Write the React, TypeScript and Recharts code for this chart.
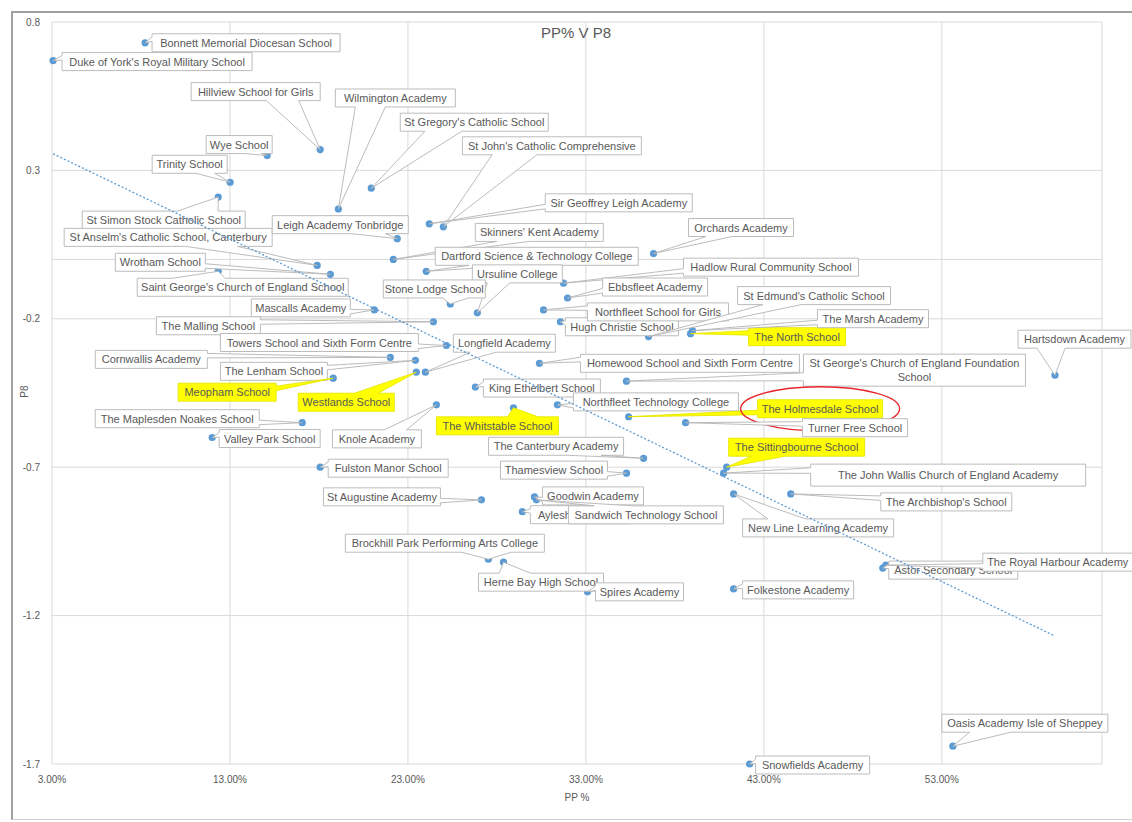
import { CartesianGrid, ReferenceLine, Scatter, ScatterChart, XAxis, YAxis } from "recharts";

const FONT = "'Liberation Sans', Arial, sans-serif";

const schools = [
  "Bonnett Memorial Diocesan School",
  "Duke of York's Royal Military School",
  "Hillview School for Girls",
  "Wilmington Academy",
  "St Gregory's Catholic School",
  "Wye School",
  "Trinity School",
  "St Simon Stock Catholic School",
  "St Anselm's Catholic School, Canterbury",
  "Wrotham School",
  "Saint George's Church of England School",
  "Leigh Academy Tonbridge",
  "St John's Catholic Comprehensive",
  "Sir Geoffrey Leigh Academy",
  "Skinners' Kent Academy",
  "Dartford Science & Technology College",
  "Orchards Academy",
  "Hadlow Rural Community School",
  "Ebbsfleet Academy",
  "Ursuline College",
  "Stone Lodge School",
  "Mascalls Academy",
  "The Malling School",
  "Towers School and Sixth Form Centre",
  "Longfield Academy",
  "Cornwallis Academy",
  "The Lenham School",
  "Meopham School",
  "Westlands School",
  "The Maplesden Noakes School",
  "Valley Park School",
  "Knole Academy",
  "King Ethelbert School",
  "The Whitstable School",
  "Northfleet Technology College",
  "Homewood School and Sixth Form Centre",
  "Hugh Christie School",
  "Northfleet School for Girls",
  "St Edmund's Catholic School",
  "The North School",
  "The Marsh Academy",
  "St George's Church of England Foundation School",
  "The Holmesdale School",
  "Turner Free School",
  "The Sittingbourne School",
  "The John Wallis Church of England Academy",
  "The Canterbury Academy",
  "Thamesview School",
  "The Archbishop's School",
  "New Line Learning Academy",
  "Goodwin Academy",
  "Aylesham School",
  "Sandwich Technology School",
  "Fulston Manor School",
  "St Augustine Academy",
  "Brockhill Park Performing Arts College",
  "Herne Bay High School",
  "Spires Academy",
  "Folkestone Academy",
  "Astor Secondary School",
  "The Royal Harbour Academy",
  "Hartsdown Academy",
  "Oasis Academy Isle of Sheppey",
  "Snowfields Academy",
];

// PP % (percentage of pupil premium pupils)
const ppPercent = [
  8.23, 3.06, 18.07, 19.09, 20.94, 15.09, 13.01, 12.34, 17.9, 18.64,
  12.34, 22.4, 24.99, 24.2, 22.18, 24.03, 36.8, 31.74, 31.97, 26.9,
  25.38, 21.11, 24.43, 25.16, 23.98, 22.01, 23.42, 18.8, 23.47, 17.06,
  12.0, 24.6, 26.79, 28.93, 31.4, 30.39, 31.57, 30.62, 36.52, 38.88,
  38.99, 35.28, 35.4, 38.6, 40.91, 40.74, 36.24, 35.28, 44.51, 41.3,
  30.11, 29.43, 30.22, 18.07, 27.13, 27.52, 28.37, 33.09, 41.3, 49.68,
  49.85, 59.36, 53.62, 42.2,
];

// Progress 8 score
const p8 = [
  0.73, 0.67, 0.37, 0.17, 0.24, 0.35, 0.26, 0.21, -0.02, -0.05,
  -0.04, 0.07, 0.11, 0.12, 0.0, -0.04, 0.02, -0.08, -0.13, -0.18,
  -0.15, -0.17, -0.21, -0.29, -0.38, -0.33, -0.34, -0.4, -0.38, -0.55,
  -0.6, -0.49, -0.43, -0.5, -0.49, -0.35, -0.21, -0.17, -0.26, -0.25,
  -0.24, -0.41, -0.53, -0.55, -0.7, -0.72, -0.67, -0.72, -0.79, -0.79,
  -0.8, -0.85, -0.81, -0.7, -0.81, -1.01, -1.02, -1.12, -1.11, -1.04,
  -1.03, -0.39, -1.64, -1.7,
];

const highlighted = [
  "Meopham School",
  "Westlands School",
  "The Whitstable School",
  "The North School",
  "The Holmesdale School",
  "The Sittingbourne School",
];
const circled = "The Holmesdale School";

const xTicks = [3, 13, 23, 33, 43, 53];
const yTicks = [0.8, 0.3, -0.2, -0.7, -1.2, -1.7];

// callout box placement relative to its point: [dx, dy, width, height]
const calloutLayout: Record<string, number[]> = {
  "Bonnett Memorial Diocesan School": [7, -9, 188],
  "Duke of York's Royal Military School": [9, -8, 190],
  "Hillview School for Girls": [-129, -67, 129],
  "Wilmington Academy": [-3, -120, 120],
  "St Gregory's Catholic School": [29, -75, 148],
  "Wye School": [-61, -20, 66],
  "Trinity School": [-78, -27, 75],
  "St Simon Stock Catholic School": [-136, 14, 163],
  "St Anselm's Catholic School, Canterbury": [-253, -37, 208],
  "Wrotham School": [-215, -21, 90],
  "Saint George's Church of England School": [-81, 7, 211],
  "Leigh Academy Tonbridge": [-125, -23, 136],
  "St John's Catholic Comprehensive": [19, -90, 179],
  "Sir Geoffrey Leigh Academy": [116, -30, 147],
  "Skinners' Kent Academy": [82, -36, 128],
  "Dartford Science & Technology College": [9, -24, 203],
  "Orchards Academy": [35, -35, 105],
  "Hadlow Rural Community School": [120, -25, 175],
  "Ebbsfleet Academy": [35, -20, 105],
  "Ursuline College": [-5, -48, 90],
  "Stone Lodge School": [-67, -24, 102],
  "Mascalls Academy": [-123, -11, 99],
  "The Malling School": [-277, -5, 104],
  "Towers School and Sixth Form Centre": [-226, -12, 198],
  "Longfield Academy": [28, -38, 102],
  "Cornwallis Academy": [-295, -7, 112],
  "The Lenham School": [-195, 2, 107],
  "Meopham School": [-155, 5, 98],
  "Westlands School": [-118, 21, 96],
  "The Maplesden Noakes School": [-207, -13, 164],
  "Valley Park School": [7, -8, 101],
  "Knole Academy": [-104, 25, 89],
  "King Ethelbert School": [8, -8, 117],
  "The Whitstable School": [-77, 9, 122],
  "Northfleet Technology College": [16, -12, 165],
  "Homewood School and Sixth Form Centre": [41, -9, 219],
  "Hugh Christie School": [5, -4, 113],
  "Northfleet School for Girls": [44, -7, 141],
  "St Edmund's Catholic School": [89, -50, 153],
  "The North School": [58, -6, 97],
  "The Marsh Academy": [125, -21, 111],
  "St George's Church of England Foundation School": [177, -27, 222, 32],
  "The Holmesdale School": [129, -17, 125],
  "Turner Free School": [117, -4, 105],
  "The Sittingbourne School": [2, -29, 136],
  "The John Wallis Church of England Academy": [87, -9, 275, 22],
  "The Canterbury Academy": [-155, -21, 135],
  "Thamesview School": [-126, -12, 107],
  "The Archbishop's School": [90, -1, 131],
  "New Line Learning Academy": [9, 25, 151],
  "Goodwin Academy": [8, -10, 101],
  "Aylesham School": [8, -6, 100],
  "Sandwich Technology School": [32, 6, 155],
  "Fulston Manor School": [8, -8, 120],
  "St Augustine Academy": [-158, -12, 117],
  "Brockhill Park Performing Arts College": [-143, -25, 199],
  "Herne Bay High School": [-25, 11, 125],
  "Spires Academy": [8, -9, 88],
  "Folkestone Academy": [9, -8, 111],
  "Astor Secondary School": [6, -7, 129],
  "The Royal Harbour Academy": [97, -12, 150],
  "Hartsdown Academy": [-37, -45, 113],
  "Oasis Academy Isle of Sheppey": [-11, -32, 166],
  "Snowfields Academy": [6, -8, 114],
};

interface Pt {
  name: string;
  x: number;
  y: number;
}

function fitLine(pts: Pt[]): Pt[] {
  const n = pts.length;
  let sx = 0, sy = 0, sxx = 0, sxy = 0;
  pts.forEach((p) => {
    sx += p.x;
    sy += p.y;
    sxx += p.x * p.x;
    sxy += p.x * p.y;
  });
  const slope = (n * sxy - sx * sy) / (n * sxx - sx * sx);
  const icpt = (sy - slope * sx) / n;
  const xs = pts.map((p) => p.x);
  const lo = Math.min(...xs);
  const hi = Math.max(...xs);
  return [
    { name: "trend", x: lo, y: icpt + slope * lo },
    { name: "trend", x: hi, y: icpt + slope * hi },
  ];
}

function Dot(props: any) {
  const { cx, cy } = props;
  if (cx == null || cy == null) return <g />;
  return <circle cx={cx} cy={cy} r={3.6} fill="#5b9bd5" />;
}

function Callout(props: any) {
  const { cx, cy, payload } = props;
  const lay = payload && calloutLayout[payload.name];
  if (!lay || cx == null) return <g />;
  const [dx, dy, w, h = 18] = lay;
  const l = cx + dx, t = cy + dy, r = l + w, b = t + h;
  const hc = l + w / 2, vc = t + h / 2;
  const dxPos = cx - hc, dyPos = cy - vc;
  const inside = cx >= l && cx <= r && cy >= t && cy <= b;
  let d = `M${l},${t} L${r},${t} L${r},${b} L${l},${b} Z`;
  if (!inside) {
    const dz = Math.abs(dyPos) - Math.abs((dxPos * h) / w);
    if (dz > 0) {
      const x1 = l + (w * (dxPos > 0 ? 7 : 2)) / 12;
      const x2 = l + (w * (dxPos > 0 ? 10 : 5)) / 12;
      d = dyPos < 0
        ? `M${l},${t} L${x1},${t} L${cx},${cy} L${x2},${t} L${r},${t} L${r},${b} L${l},${b} Z`
        : `M${l},${t} L${r},${t} L${r},${b} L${x2},${b} L${cx},${cy} L${x1},${b} L${l},${b} Z`;
    } else {
      const y1 = t + (h * (dyPos > 0 ? 7 : 2)) / 12;
      const y2 = t + (h * (dyPos > 0 ? 10 : 5)) / 12;
      d = dxPos < 0
        ? `M${l},${t} L${r},${t} L${r},${b} L${l},${b} L${l},${y2} L${cx},${cy} L${l},${y1} Z`
        : `M${l},${t} L${r},${t} L${r},${y1} L${cx},${cy} L${r},${y2} L${r},${b} L${l},${b} Z`;
    }
  }
  const yellow = highlighted.includes(payload.name);
  const name: string = payload.name;
  let lines = [name];
  if (h > 28) {
    const cut = name.lastIndexOf(" ");
    lines = [name.slice(0, cut), name.slice(cut + 1)];
  }
  return (
    <g>
      <path
        d={d}
        fill={yellow ? "#ffff00" : "#ffffff"}
        stroke={yellow ? "#e6e600" : "#b4b4b4"}
        strokeWidth={0.9}
      />
      {lines.map((s, i) => (
        <text
          key={i}
          x={hc}
          y={vc + (i - (lines.length - 1) / 2) * 14}
          textAnchor="middle"
          dominantBaseline="central"
          fontSize={11}
          fontFamily={FONT}
          fill="#595959"
        >
          {s}
        </text>
      ))}
      {name === circled && (
        <ellipse cx={hc} cy={vc} rx={w / 2 + 17} ry={22} fill="none" stroke="#e8262b" strokeWidth={1.4} />
      )}
    </g>
  );
}

export default function App() {
  const points: Pt[] = schools.map((name, i) => ({ name, x: ppPercent[i], y: p8[i] }));
  const trend = fitLine(points);

  return (
    <div
      style={{
        position: "absolute",
        left: 0,
        top: 0,
        width: 1132,
        height: 822,
        background: "#ffffff",
        overflow: "hidden",
        fontFamily: FONT,
      }}
    >
      <ScatterChart width={1132} height={822} margin={{ top: 22, right: 30, left: 0, bottom: 0 }}>
        <CartesianGrid stroke="#d9d9d9" strokeWidth={1} />
        <XAxis
          type="number"
          dataKey="x"
          domain={[3, 62]}
          ticks={xTicks}
          height={58}
          axisLine={false}
          tickLine={false}
          tickSize={0}
          tickMargin={12}
          tick={{ fontSize: 10, fill: "#595959", fontFamily: FONT }}
          tickFormatter={(v: number) => `${v.toFixed(2)}%`}
        />
        <YAxis
          type="number"
          dataKey="y"
          domain={[-1.7, 0.8]}
          ticks={yTicks}
          width={52}
          axisLine={false}
          tickLine={false}
          tickSize={0}
          tickMargin={12}
          tick={{ fontSize: 10, fill: "#595959", fontFamily: FONT }}
          tickFormatter={(v: number) => String(Number(v.toFixed(1)))}
        />
        <ReferenceLine y={0} stroke="#d9d9d9" strokeWidth={1} />
        <Scatter data={points} shape={Dot} isAnimationActive={false} />
        <Scatter data={points} shape={Callout} isAnimationActive={false} />
        <Scatter
          data={trend}
          shape={() => <g />}
          line={{ stroke: "#5b9bd5", strokeWidth: 1.3, strokeDasharray: "2 2" }}
          isAnimationActive={false}
        />
      </ScatterChart>

      <div
        style={{
          position: "absolute",
          left: 11,
          top: 11,
          width: 1200,
          height: 806,
          borderLeft: "2px solid #a0a0a0",
          borderTop: "2px solid #a0a0a0",
          borderBottom: "1px solid #d0d0d0",
          pointerEvents: "none",
        }}
      />
      <div
        style={{
          position: "absolute",
          left: 476,
          width: 200,
          top: 24,
          textAlign: "center",
          fontSize: 15,
          color: "#595959",
        }}
      >
        PP% V P8
      </div>
      <div
        style={{
          position: "absolute",
          left: 4,
          top: 386,
          width: 40,
          textAlign: "center",
          fontSize: 10,
          color: "#595959",
          transform: "rotate(-90deg)",
        }}
      >
        P8
      </div>
      <div
        style={{
          position: "absolute",
          left: 537,
          width: 80,
          top: 792,
          textAlign: "center",
          fontSize: 10,
          color: "#595959",
        }}
      >
        PP %
      </div>
    </div>
  );
}
